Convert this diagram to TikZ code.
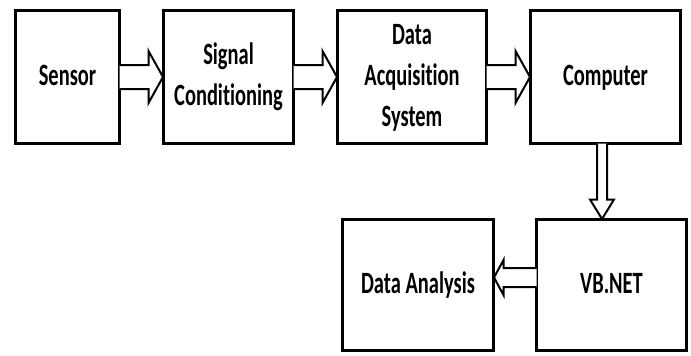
\documentclass[tikz,border=0pt]{standalone}
\usepackage{fontspec}
\setmainfont{Carlito}[Ligatures={NoCommon}]
\usetikzlibrary{calc}
\newcommand\hscl[1]{\scalebox{0.66}[1]{\fontsize{31}{41}\selectfont\bfseries\begin{tabular}{@{}c@{}}#1\end{tabular}}}
\tikzset{
  blk/.style={draw=black, line width=3pt, rectangle, outer sep=0pt, inner sep=0pt, fill=white},
  harrow/.style={draw=black, line width=2pt, fill=white, line join=miter},
}
\begin{document}
\begin{tikzpicture}[x=1pt,y=-1pt]
\useasboundingbox (0,0) rectangle (691,356);
\node[blk, minimum width=104pt, minimum height=133pt] (sen) at (67.5,77) {\hscl{Sensor}};
\node[blk, minimum width=130pt, minimum height=133pt] (sig) at (228.5,77) {\hscl{Signal\\Conditioning}};
\node[blk, minimum width=149pt, minimum height=133pt] (das) at (412,77) {\hscl{Data\\Acquisition\\System}};
\node[blk, minimum width=150pt, minimum height=133pt] (com) at (605.5,77) {\hscl{Computer}};
\node[blk, minimum width=150pt, minimum height=131pt] (vb) at (611.5,285) {\hscl{VB.NET}};
\node[blk, minimum width=151pt, minimum height=131pt] (da) at (418,285) {\hscl{Data Analysis}};
% horizontal hollow arrows
\foreach \a/\b in {sen/sig, sig/das, das/com}{
  \draw[harrow] let \p1=(\a.east), \p2=(\b.west) in
    (\x1,\y1-12) -- (\x2-15,\y1-12) -- (\x2-15,\y1-26) -- (\x2-0.5,\y1) -- (\x2-15,\y1+26) -- (\x2-15,\y1+12) -- (\x1,\y1+12);
}
% down arrow
\draw[harrow] let \p1=(com.south), \p2=(vb.north) in
  (\x1-8.5,\y1) -- (\x1-8.5,\y2+20) -- (\x1-15.5,\y2+20) -- (\x1-3.5,\y2+0.5) -- (\x1+8.5,\y2+20) -- (\x1+1.5,\y2+20) -- (\x1+1.5,\y1);
% left arrow
\draw[harrow] let \p1=(vb.west), \p2=(da.east) in
  (\x1,\y1+17) -- (\x2+10,\y1+17) -- (\x2+10,\y1+25) -- (\x2+0.5,\y1+7.5) -- (\x2+10,\y1-10) -- (\x2+10,\y1-2) -- (\x1,\y1-2);
\end{tikzpicture}
\end{document}
